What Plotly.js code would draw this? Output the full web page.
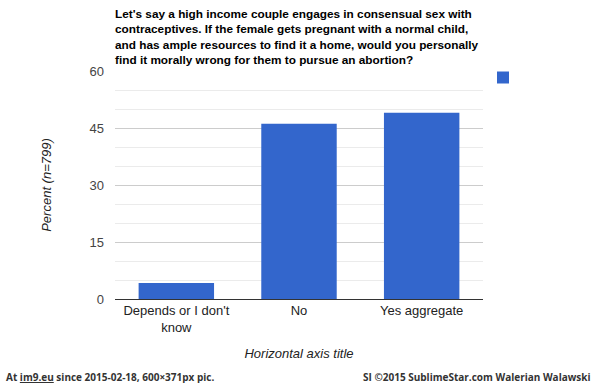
<!DOCTYPE html>
<html>
<head>
<meta charset="utf-8">
<script src="https://cdn.plot.ly/plotly-3.0.1.min.js"></script>
<style>html,body{margin:0;padding:0;background:#fff;}#chart{width:600px;height:383px;}</style>
</head>
<body>
<div id="chart"></div>
<script>
const categories = ["Depends or I don't<br>know", "No", "Yes aggregate"];
const percentValues = [4.2, 46.1, 49.0];
const yTickValues = [0, 15, 30, 45, 60];
const titleText = "Let's say a high income couple engages in consensual sex with<br>contraceptives. If the female gets pregnant with a normal child,<br>and has ample resources to find it a home, would you personally<br>find it morally wrong for them to pursue an abortion?";

const L = 115, R = 114, T = 71, B = 84, W = 600, H = 383;
const pw = W - L - R, ph = H - T - B;
const px = v => (v - L) / pw;
const py = v => (H - B - v) / ph;

const data = [{
  type: 'bar',
  x: categories,
  y: percentValues,
  name: ' ',
  marker: {color: '#3366cc'},
  hoverinfo: 'none'
}];

const layout = {
  width: W, height: H,
  margin: {l: L, r: R, t: T, b: B, pad: 0},
  paper_bgcolor: '#fff', plot_bgcolor: '#fff',
  font: {family: 'Arial, Liberation Sans, sans-serif', size: 13, color: '#222'},
  bargap: 0.385,
  xaxis: {
    type: 'category',
    showgrid: false, zeroline: false, showline: false,
    ticks: '', tickfont: {size: 13, color: '#222'},
    ticklabelstandoff: 2,
    title: {text: '<i>Horizontal axis title</i>', font: {size: 13, color: '#222'}, standoff: 14}
  },
  yaxis: {
    range: [0, 60],
    tickvals: yTickValues,
    ticktext: yTickValues.map(String),
    tickfont: {size: 13, color: '#444'},
    ticks: '',
    showgrid: true, gridcolor: '#cccccc', gridwidth: 1,
    minor: {dtick: 5, tick0: 0, showgrid: true, gridcolor: '#ebebeb', ticks: ''},
    zeroline: true, zerolinecolor: '#333', zerolinewidth: 1,
    showline: false,
    ticklabelstandoff: 10,
    title: {text: '<i>Percent (n=799)</i>', font: {size: 13, color: '#222'}, standoff: 34}
  },
  showlegend: true,
  legend: {
    xref: 'container', yref: 'container',
    x: 483 / W, xanchor: 'left',
    y: 1 - 63 / H, yanchor: 'top',
    font: {size: 12, color: '#222'},
    bgcolor: 'rgba(0,0,0,0)'
  },
  annotations: [
    {
      xref: 'paper', yref: 'paper',
      x: px(113), y: py(5), xanchor: 'left', yanchor: 'top', align: 'left',
      showarrow: false,
      text: '<b>' + titleText + '</b>',
      font: {family: 'Arial, Liberation Sans, sans-serif', size: 11.8, color: '#000'}
    },
    {
      xref: 'paper', yref: 'paper',
      x: px(3), y: py(377), xanchor: 'left', yanchor: 'middle',
      showarrow: false,
      text: '<b>At <span style="text-decoration:underline">im9.eu</span> since 2015-02-18, 600×371px pic.</b>',
      font: {family: 'Open Sans, sans-serif', size: 10, color: '#333'}
    },
    {
      xref: 'paper', yref: 'paper',
      x: px(597), y: py(377), xanchor: 'right', yanchor: 'middle',
      showarrow: false,
      text: '<b>SI ©2015 SublimeStar.com Walerian Walawski</b>',
      font: {family: 'Open Sans, sans-serif', size: 10, color: '#333'}
    }
  ]
};

Plotly.newPlot('chart', data, layout, {displayModeBar: false, staticPlot: true});
</script>
</body>
</html>
